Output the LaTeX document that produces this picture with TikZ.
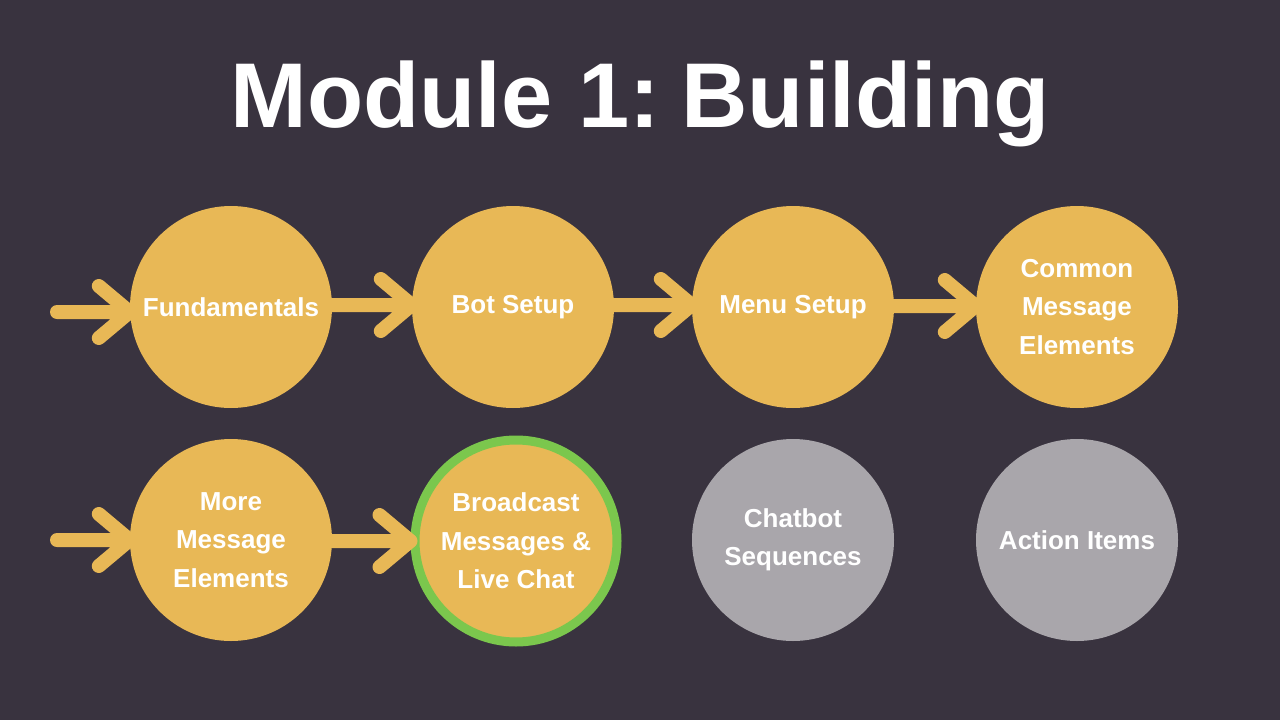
\documentclass[tikz,border=0pt]{standalone}
\usepackage{fontspec}
\setmainfont{Liberation Sans}
\frenchspacing
\definecolor{bg}{HTML}{39333F}
\definecolor{gold}{HTML}{E8B856}
\definecolor{greyc}{HTML}{A9A6AB}
\definecolor{ringgreen}{HTML}{7BC74D}
\begin{document}
\begin{tikzpicture}[x=1pt,y=-1pt,
  topic/.style={circle,fill=gold,minimum size=202pt,inner sep=0pt,align=center,
    text=white,font=\fontsize{26}{38.5}\selectfont\bfseries},
  pending/.style={topic,fill=greyc},
  current/.style={topic,draw=ringgreen,line width=9pt,minimum size=202pt},
  flow/.style={draw=gold,line width=14pt,line cap=round,line join=round}
]
\useasboundingbox (0,0) rectangle (1280,720);
\fill[bg] (0,0) rectangle (1280,720);

\node[anchor=base,text=white,font=\fontsize{92}{100}\selectfont\bfseries] (title) at (640,127) {Module 1:\kern-4pt\ Building};

\node[topic] (fund) at (231,307) {Fundamentals};
\node[topic] (bot) at (513,307) {Bot Setup};
\node[topic] (menu) at (793,307) {Menu Setup};
\node[topic] (common) at (1077,307) {Common\\Message\\Elements};
\node[topic] (more) at (231,540) {More\\Message\\Elements};
\node[current] (broad) at (516,541) {Broadcast\\Messages \&\\Live Chat};
\node[pending] (chat) at (793,540) {Chatbot\\Sequences};
\node[pending] (action) at (1077,540) {Action Items};

\coordinate (s1) at (57,312);
\coordinate (s5) at (57,540);

% arrows: shaft plus chevron head
\foreach \a/\b/\y in {s1/fund/312, fund/bot/305, bot/menu/305, menu/common/306, s5/more/540, more/broad/541}{
  \path (\a.east) coordinate (st);
  \path (\b.west) coordinate (en);
  \draw[flow] (st |- 0,\y) -- (en |- 0,\y)
     ++(-31,-26) -- (en |- 0,\y) -- ++(-31,26);
}
\end{tikzpicture}
\end{document}
